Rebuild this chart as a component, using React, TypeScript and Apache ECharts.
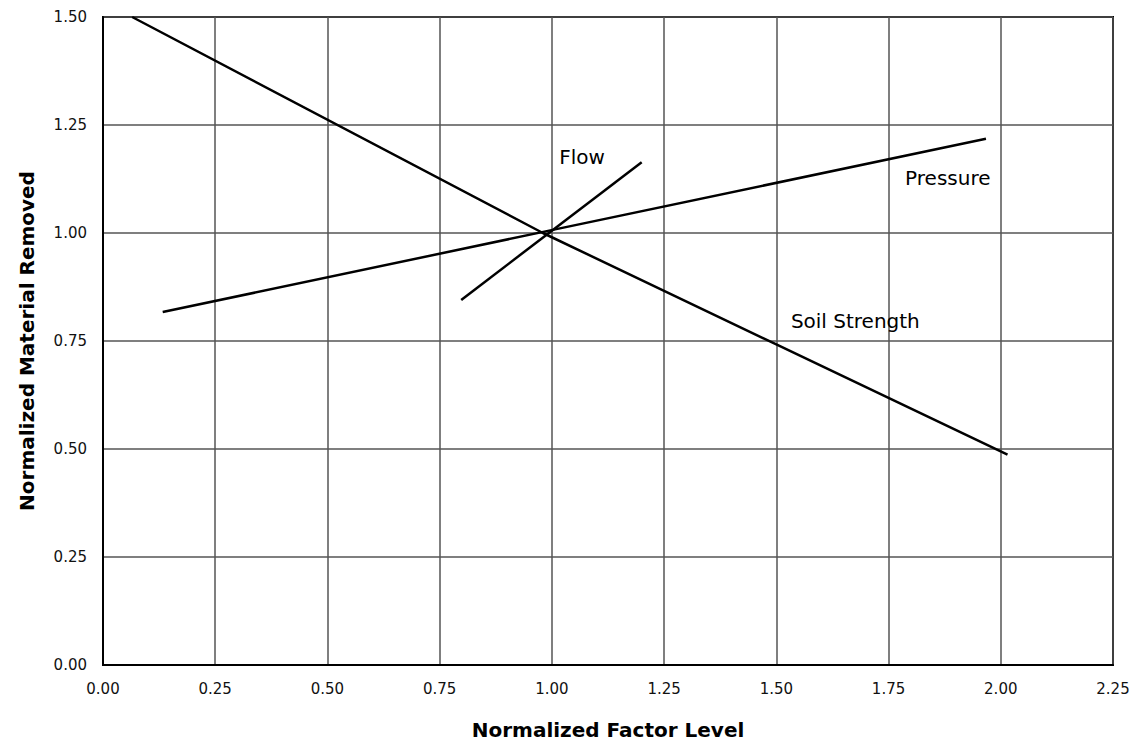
import React, { useEffect, useRef } from "react";
import * as echarts from "echarts";

const xTicks = [0, 0.25, 0.5, 0.75, 1.0, 1.25, 1.5, 1.75, 2.0, 2.25];
const yTicks = [0, 0.25, 0.5, 0.75, 1.0, 1.25, 1.5];

const soilStrength: [number, number][] = [
  [0.065, 1.5],
  [0.98, 1.0],
  [1.5, 0.742],
  [2.015, 0.487],
];
const pressure: [number, number][] = [
  [0.133, 0.817],
  [0.978, 1.002],
  [1.967, 1.218],
];
const flow: [number, number][] = [
  [0.798, 0.845],
  [1.2, 1.164],
];

const seriesNames = ["Soil Strength", "Pressure", "Flow"];
const labelCoords: [number, number][] = [
  [1.676, 0.796],
  [1.882, 1.127],
  [1.067, 1.176],
];

const FONT = "DejaVu Sans";

export default function App() {
  const ref = useRef<HTMLDivElement>(null);
  useEffect(() => {
    if (!ref.current) return;
    const chart = echarts.init(ref.current, null, { renderer: "svg" });
    const datasets = [soilStrength, pressure, flow];
    chart.setOption({
      animation: false,
      backgroundColor: "#fff",
      grid: {
        left: 103,
        right: 26,
        top: 17,
        bottom: 78,
        show: true,
        borderColor: "#000",
        borderWidth: 2,
        outerBoundsMode: "none",
        containLabel: false,
      },
      xAxis: {
        type: "value",
        min: xTicks[0],
        max: xTicks[xTicks.length - 1],
        interval: 0.25,
        name: "Normalized Factor Level",
        nameLocation: "middle",
        nameGap: 55,
        nameTextStyle: { fontFamily: FONT, fontWeight: "bold", fontSize: 20, color: "#000" },
        axisLine: { show: true, lineStyle: { color: "#000", width: 2 } },
        axisTick: { show: false },
        axisLabel: {
          fontFamily: FONT,
          fontSize: 15,
          color: "#111",
          margin: 16,
          formatter: (v: number) => v.toFixed(2),
        },
        splitLine: { show: true, lineStyle: { color: "#555", width: 1.5 } },
      },
      yAxis: {
        type: "value",
        min: yTicks[0],
        max: yTicks[yTicks.length - 1],
        interval: 0.25,
        name: "Normalized Material Removed",
        nameLocation: "middle",
        nameGap: 66,
        nameTextStyle: { fontFamily: FONT, fontWeight: "bold", fontSize: 20, color: "#000" },
        axisLine: { show: true, lineStyle: { color: "#000", width: 2 } },
        axisTick: { show: false },
        axisLabel: {
          fontFamily: FONT,
          fontSize: 15,
          color: "#111",
          margin: 16,
          formatter: (v: number) => v.toFixed(2),
        },
        splitLine: { show: true, lineStyle: { color: "#555", width: 1.5 } },
      },
      series: datasets.map((d, i) => ({
        name: seriesNames[i],
        type: "line",
        data: d,
        symbol: "none",
        lineStyle: { color: "#000", width: 2.5 },
        markPoint: {
          symbol: "circle",
          symbolSize: 1,
          itemStyle: { color: "rgba(0,0,0,0)" },
          label: {
            show: true,
            position: "inside",
            formatter: seriesNames[i],
            fontFamily: FONT,
            fontSize: 20,
            color: "#000",
          },
          data: [{ coord: labelCoords[i] }],
        },
      })),
    });
    return () => chart.dispose();
  }, []);
  return <div ref={ref} style={{ width: 1139, height: 743, position: "absolute", left: 0, top: 0 }} />;
}
